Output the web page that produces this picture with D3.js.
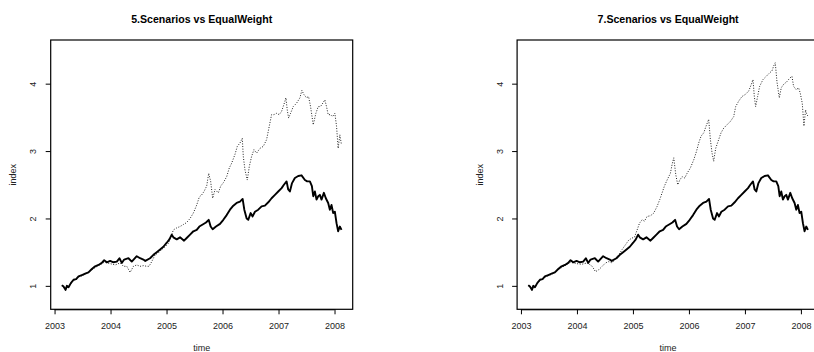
<!DOCTYPE html>
<html>
<head>
<meta charset="utf-8">
<script src="https://cdn.jsdelivr.net/npm/d3@7/dist/d3.min.js"></script>
<style>
  html, body { margin: 0; padding: 0; background: #fff; }
  svg { display: block; font-family: "Liberation Sans", Arial, Helvetica, sans-serif; }
</style>
</head>
<body>
<svg id="chart" width="814" height="352"></svg>
<script>
// Equal-weight benchmark index (shared by both panels)
const ewTime = [2003.131,2003.161,2003.196,2003.220,2003.250,2003.291,2003.339,2003.386,2003.428,2003.488,
  2003.547,2003.606,2003.666,2003.725,2003.785,2003.844,2003.886,2003.933,2003.993,2004.052,
  2004.112,2004.159,2004.201,2004.243,2004.320,2004.379,2004.468,2004.528,2004.587,2004.620,
  2004.706,2004.766,2004.825,2004.885,2004.944,2005.004,2005.051,2005.093,2005.122,2005.182,
  2005.241,2005.313,2005.360,2005.420,2005.479,2005.539,2005.586,2005.646,2005.705,2005.753,
  2005.788,2005.824,2005.883,2005.955,2006.014,2006.074,2006.133,2006.193,2006.252,2006.312,
  2006.359,2006.389,2006.431,2006.460,2006.502,2006.537,2006.579,2006.638,2006.698,2006.757,
  2006.817,2006.876,2006.936,2006.995,2007.055,2007.096,2007.144,2007.173,2007.203,2007.239,
  2007.292,2007.352,2007.411,2007.471,2007.512,2007.560,2007.596,2007.620,2007.649,2007.679,
  2007.709,2007.738,2007.768,2007.810,2007.845,2007.887,2007.917,2007.946,2007.976,2008.006,
  2008.036,2008.065,2008.095,2008.125];
const ewIndex = [1.01,0.99,0.94,1.00,0.98,1.04,1.09,1.10,1.14,1.16,
  1.18,1.20,1.25,1.29,1.31,1.34,1.38,1.35,1.37,1.35,
  1.36,1.41,1.34,1.39,1.41,1.36,1.44,1.41,1.39,1.37,
  1.41,1.46,1.50,1.54,1.58,1.64,1.69,1.76,1.72,1.69,
  1.72,1.67,1.71,1.76,1.81,1.83,1.88,1.91,1.94,1.98,
  1.88,1.84,1.88,1.92,1.98,2.05,2.13,2.19,2.23,2.25,
  2.29,2.13,2.00,1.98,2.08,2.03,2.10,2.13,2.18,2.19,
  2.24,2.30,2.35,2.40,2.45,2.50,2.55,2.43,2.40,2.52,
  2.60,2.63,2.64,2.57,2.55,2.55,2.48,2.33,2.40,2.28,
  2.33,2.35,2.28,2.38,2.30,2.23,2.13,2.20,2.08,2.10,
  1.93,1.81,1.88,1.83];

// Scenario-weighted portfolio, 5 scenarios
const s5Time = [2003.131,2003.196,2003.250,2003.339,2003.428,2003.547,2003.666,2003.785,2003.886,2003.993,
  2004.082,2004.171,2004.231,2004.290,2004.350,2004.409,2004.468,2004.528,2004.587,2004.647,
  2004.688,2004.736,2004.795,2004.855,2004.914,2004.974,2005.033,2005.075,2005.122,2005.182,
  2005.241,2005.301,2005.360,2005.420,2005.479,2005.539,2005.586,2005.628,2005.669,2005.717,
  2005.753,2005.788,2005.824,2005.866,2005.925,2005.967,2006.014,2006.074,2006.121,2006.163,
  2006.222,2006.264,2006.312,2006.353,2006.371,2006.401,2006.442,2006.478,2006.519,2006.561,
  2006.609,2006.668,2006.728,2006.787,2006.835,2006.876,2006.918,2006.965,2007.013,2007.055,
  2007.096,2007.132,2007.156,2007.180,2007.215,2007.263,2007.322,2007.382,2007.417,2007.453,
  2007.500,2007.536,2007.572,2007.620,2007.667,2007.709,2007.750,2007.798,2007.828,2007.857,
  2007.887,2007.929,2007.964,2008.006,2008.036,2008.065,2008.095,2008.125];
const s5Index = [1.01,0.95,0.99,1.08,1.13,1.17,1.24,1.30,1.35,1.33,
  1.31,1.34,1.29,1.29,1.20,1.29,1.31,1.29,1.30,1.29,
  1.29,1.36,1.46,1.49,1.54,1.58,1.63,1.72,1.83,1.86,
  1.88,1.91,1.94,2.00,2.08,2.20,2.32,2.35,2.40,2.48,
  2.67,2.55,2.30,2.43,2.38,2.48,2.53,2.62,2.75,2.82,
  2.95,3.07,3.12,3.19,2.92,2.72,2.57,2.77,2.92,3.02,
  2.97,3.04,3.07,3.17,3.37,3.54,3.54,3.56,3.54,3.59,
  3.69,3.79,3.61,3.49,3.56,3.66,3.71,3.79,3.90,3.84,
  3.79,3.81,3.66,3.39,3.56,3.66,3.66,3.72,3.76,3.66,
  3.54,3.54,3.51,3.56,3.37,3.04,3.24,3.09];

// Scenario-weighted portfolio, 7 scenarios
const s7Time = [2003.131,2003.196,2003.250,2003.339,2003.428,2003.547,2003.666,2003.785,2003.886,2003.993,
  2004.082,2004.183,2004.272,2004.332,2004.391,2004.451,2004.510,2004.570,2004.629,2004.688,
  2004.748,2004.807,2004.867,2004.926,2004.986,2005.027,2005.075,2005.117,2005.164,2005.206,
  2005.253,2005.313,2005.372,2005.432,2005.479,2005.521,2005.562,2005.610,2005.669,2005.699,
  2005.729,2005.765,2005.800,2005.836,2005.878,2005.925,2005.967,2006.026,2006.086,2006.133,
  2006.175,2006.216,2006.264,2006.306,2006.353,2006.383,2006.413,2006.442,2006.478,2006.531,
  2006.573,2006.621,2006.680,2006.740,2006.799,2006.835,2006.888,2006.948,2007.007,2007.067,
  2007.114,2007.144,2007.168,2007.191,2007.227,2007.263,2007.322,2007.382,2007.441,2007.483,
  2007.512,2007.542,2007.572,2007.614,2007.649,2007.691,2007.750,2007.798,2007.840,2007.869,
  2007.917,2007.958,2007.988,2008.024,2008.054,2008.083,2008.107,2008.125];
const s7Index = [1.01,0.95,0.99,1.08,1.13,1.17,1.24,1.30,1.35,1.33,
  1.32,1.34,1.29,1.21,1.24,1.29,1.34,1.36,1.34,1.41,
  1.46,1.54,1.61,1.68,1.71,1.72,1.83,1.93,1.98,1.96,
  2.03,2.04,2.08,2.18,2.28,2.38,2.48,2.57,2.67,2.80,
  2.90,2.65,2.50,2.57,2.62,2.60,2.67,2.75,2.87,2.99,
  3.12,3.22,3.27,3.37,3.47,3.17,2.97,2.85,3.04,3.17,
  3.27,3.34,3.39,3.44,3.51,3.66,3.74,3.81,3.84,3.89,
  3.99,4.06,3.81,3.66,3.81,3.96,4.06,4.11,4.16,4.19,
  4.26,4.31,4.03,3.79,3.94,3.99,4.03,4.08,4.11,3.96,
  3.91,3.94,3.86,3.71,3.37,3.61,3.54,3.52];

const panelTitles = ["5.Scenarios vs EqualWeight", "7.Scenarios vs EqualWeight"];
const xTicks = [2003, 2004, 2005, 2006, 2007, 2008];
const yTicks = [1, 2, 3, 4];
const yLimits = [0.8, 4.5];

const svg = d3.select("#chart");
const panelWidth = 466.4;
const plot = { left: 50.7, right: 352.7, top: 40, bottom: 309.3 };

// R-style 4% padding of the axis ranges
function padded([a, b]) { const d = (b - a) * 0.04; return [a - d, b + d]; }

const allTime = ewTime.concat(s5Time, s7Time);
const x = d3.scaleLinear().domain(padded(d3.extent(allTime))).range([plot.left, plot.right]);
const y = d3.scaleLinear().domain(padded(yLimits)).range([plot.bottom, plot.top]);

const line = d3.line().x(d => x(d[0])).y(d => y(d[1]));
const zip = (t, v) => t.map((tt, i) => [tt, v[i]]);

const panels = [
  { title: panelTitles[0], scen: zip(s5Time, s5Index) },
  { title: panelTitles[1], scen: zip(s7Time, s7Index) }
];
const ew = zip(ewTime, ewIndex);

panels.forEach((p, i) => {
  const g = svg.append("g").attr("transform", `translate(${i * panelWidth},0)`);

  // scenario portfolio (dotted) underneath the benchmark
  g.append("path").datum(p.scen)
    .attr("d", line).attr("fill", "none")
    .attr("stroke", "#222").attr("stroke-width", 1)
    .attr("stroke-dasharray", "1,1.6");

  g.append("path").datum(ew)
    .attr("d", line).attr("fill", "none")
    .attr("stroke", "#000").attr("stroke-width", 1.9)
    .attr("stroke-linejoin", "round");

  // frame
  g.append("rect")
    .attr("x", plot.left).attr("y", plot.top)
    .attr("width", plot.right - plot.left).attr("height", plot.bottom - plot.top)
    .attr("fill", "none").attr("stroke", "#000").attr("stroke-width", 1.2);

  // x axis
  const gx = g.append("g").attr("transform", `translate(0,${plot.bottom})`)
    .call(d3.axisBottom(x).tickValues(xTicks).tickFormat(d3.format("d")).tickSize(5).tickSizeOuter(0));
  gx.select(".domain").attr("d", `M${x(xTicks[0])},0.5H${x(xTicks[xTicks.length - 1])}`).attr("stroke", "#000");
  gx.selectAll(".tick line").attr("stroke", "#000");
  gx.selectAll(".tick text").attr("y", 16.7).attr("dy", "0.35em")
    .attr("font-size", 9).attr("fill", "#222").attr("font-family", null);

  // y axis
  const gy = g.append("g").attr("transform", `translate(${plot.left},0)`)
    .call(d3.axisLeft(y).tickValues(yTicks).tickFormat(d3.format("d")).tickSize(5).tickSizeOuter(0));
  gy.select(".domain").remove();
  gy.selectAll(".tick line").attr("stroke", "#000");
  gy.selectAll(".tick text")
    .attr("x", null).attr("y", null)
    .attr("transform", "translate(-17.7,0) rotate(-90)")
    .attr("text-anchor", "middle").attr("dy", "0.35em")
    .attr("font-size", 9).attr("fill", "#222").attr("font-family", null);

  // titles and axis labels
  const cx = (plot.left + plot.right) / 2;
  g.append("text").attr("x", cx).attr("y", 19).attr("dy", "0.36em")
    .attr("text-anchor", "middle").attr("font-weight", "bold").attr("font-size", 10.6)
    .text(p.title);
  g.append("text").attr("x", cx).attr("y", 347.5).attr("dy", "0.35em")
    .attr("text-anchor", "middle").attr("font-size", 9).attr("fill", "#222")
    .text("time");
  g.append("text")
    .attr("transform", `translate(13,${(plot.top + plot.bottom) / 2}) rotate(-90)`)
    .attr("dy", "0.35em").attr("text-anchor", "middle").attr("font-size", 9).attr("fill", "#222")
    .text("index");
});
</script>
</body>
</html>
